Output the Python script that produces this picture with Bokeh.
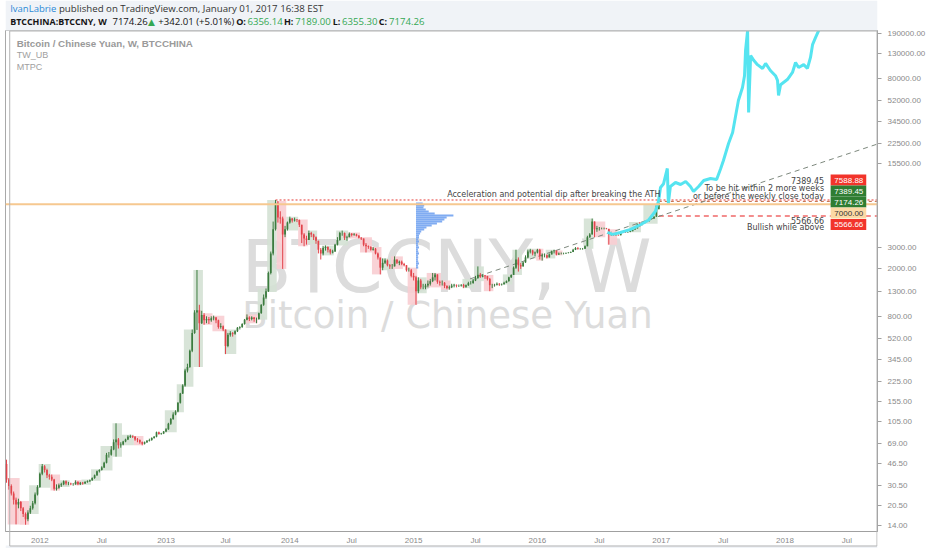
import pandas as pd
from bokeh.plotting import figure
from bokeh.models import Range1d, FixedTicker, PrintfTickFormatter, Label, Span, ColumnDataSource
from bokeh.core.properties import value
from bokeh.layouts import column
from bokeh.embed import file_html
from bokeh.resources import INLINE

# ---------------- data (weekly bars, BTCCHINA:BTCCNY) ----------------
first_week = "2011-09-26"
first_open = 46.0
last_open = 6356.14

closes = [
    # 2011
    34, 30, 26, 23, 21, 22, 19.5, 17.5, 15.8, 18, 19.5, 21.5, 25.5, 29.5,
    # 2012
    38, 44, 41, 37, 36, 34, 28.5, 29, 30.5, 31, 33, 31.5, 31.5, 31, 31, 32.5, 31, 32, 31.5, 32.5,
    33, 33.5, 35, 37, 40, 41, 43, 47, 55, 55, 61, 70, 74, 66, 67, 71, 74, 78, 79, 78,
    74, 73, 70, 68, 70, 72, 73, 76, 78, 85, 82, 83,
    # 2013
    86, 90, 100, 110, 120, 127, 150, 180, 210, 280, 300, 410, 580, 860, 900, 700, 820, 740, 760, 740,
    770, 780, 740, 650, 660, 620, 450, 560, 580, 570, 600, 640, 650, 690, 750, 780, 760, 780, 760, 760,
    850, 1000, 1150, 1300, 1850, 2700, 4300, 7200, 5400, 5300, 3900, 4300, 4900,
    # 2014
    5300, 5100, 5200, 5150, 4700, 3900, 3600, 3500, 4000, 3900, 3700, 3450, 2900, 2700, 3000, 3050,
    2900, 2750, 2800, 3200, 3500, 4000, 4000, 3650, 3700, 3950, 3850, 3900, 3800, 3650, 3600, 3200,
    3100, 3050, 2900, 2950, 2700, 2500, 2050, 2250, 2350, 2150, 2100, 2100, 2400, 2250, 2300, 2200,
    2150, 1950, 1950, 1750,
    # 2015
    1700, 1300, 1600, 1400, 1400, 1450, 1500, 1580, 1700, 1800, 1560, 1530, 1530, 1440, 1380, 1400,
    1450, 1470, 1450, 1450, 1470, 1420, 1460, 1520, 1520, 1600, 1680, 1790, 1720, 1760, 1740, 1650,
    1460, 1460, 1470, 1500, 1480, 1490, 1530, 1580, 1700, 1780, 2050, 2400, 2150, 2100, 2270, 2500,
    2800, 2850, 2700, 2750,
    # 2016
    2900, 2550, 2600, 2600, 2500, 2650, 2820, 2850, 2650, 2700, 2700, 2700, 2720, 2740, 2780, 2900,
    3000, 2950, 2950, 2960, 3100, 3700, 3900, 5000, 4300, 4400, 4400, 4400, 4400, 4350, 3900, 3900,
    3850, 3850, 3830, 4050, 4080, 4060, 4080, 4150, 4280, 4380, 4720, 4700, 4850, 5000, 5050, 5300,
    5300, 5500, 6832.25, 7174.26,
]
highs = [
    50, 35, 31, 27, 24, 23.5, 22.5, 20, 18, 18.8, 20.5, 22.5, 26.5, 30.5,
    39, 46, 45, 42, 38, 37.5, 34.5, 31, 31.5, 32, 33.5, 33.5, 32.5, 32, 31.8, 33.5, 33, 32.5, 32.5, 33,
    33.5, 34, 35.5, 37.5, 40.5, 41.5, 44, 48, 57, 58, 65, 74, 101, 76, 70, 72, 75, 80, 81, 80,
    79, 76, 74, 71, 71, 73, 75, 77, 79, 86, 86, 84,
    87, 92, 102, 112, 125, 130, 152, 182, 215, 290, 320, 420, 620, 900, 1960, 1000, 890, 850, 800, 790,
    800, 810, 790, 750, 700, 670, 620, 580, 600, 590, 610, 650, 660, 700, 760, 830, 800, 800, 790, 780,
    860, 1010, 1220, 1370, 1900, 2800, 5000, 7588.88, 7450, 6100, 5500, 4600, 5000,
    5500, 5350, 5400, 5250, 5200, 4700, 4000, 3800, 4200, 4100, 3950, 3750, 3450, 3000, 3100, 3150,
    3100, 2950, 2900, 3250, 3700, 4100, 4200, 4050, 3800, 4050, 4000, 4000, 3950, 3850, 3700, 3600,
    3300, 3150, 3100, 3050, 3000, 2750, 2450, 2450, 2450, 2400, 2200, 2200, 2550, 2400, 2350, 2350,
    2250, 2150, 2050, 2000,
    1850, 1750, 1700, 1650, 1500, 1500, 1600, 1650, 1850, 1850, 1800, 1600, 1600, 1550, 1460, 1450,
    1500, 1500, 1480, 1480, 1490, 1500, 1480, 1560, 1580, 1650, 1750, 2100, 1850, 1800, 1780, 1750,
    1680, 1500, 1500, 1540, 1520, 1510, 1560, 1600, 1720, 1800, 2100, 2900, 2500, 2250, 2300, 2600,
    2900, 2950, 2900, 2800,
    2950, 2950, 2700, 2700, 2650, 2700, 2850, 2900, 2850, 2750, 2750, 2740, 2750, 2770, 2800, 2950,
    3050, 3050, 3000, 3000, 3150, 3800, 4000, 5300, 5000, 4600, 4500, 4450, 4450, 4420, 4300, 4000,
    3950, 3900, 3900, 4100, 4120, 4100, 4100, 4200, 4320, 4420, 4800, 4950, 4900, 5050, 5100, 5350,
    5350, 5550, 6900, 7189.00,
]
lows = [
    32, 28, 25, 21, 14.3, 19.5, 18.5, 16.5, 14.2, 15.2, 17.5, 19, 21, 25,
    29, 37, 39, 35, 34, 33, 27.5, 27.5, 28.5, 29.5, 30.5, 30.5, 30.5, 30.5, 30.2, 30.8, 30.5, 30.6, 30.8, 31.3,
    32, 32.5, 33.2, 34.5, 36.5, 39, 40.5, 42.5, 46.5, 52, 54, 60, 53, 62, 63, 66, 70, 73, 76, 76,
    72, 70, 68, 66, 67, 69, 71, 72, 75, 77, 81, 81,
    82, 85, 89, 98, 108, 118, 125, 148, 178, 205, 270, 295, 400, 570, 615, 300, 690, 680, 700, 690,
    720, 740, 700, 630, 630, 600, 385, 440, 540, 540, 560, 590, 620, 640, 680, 740, 730, 740, 720, 700,
    750, 840, 980, 1120, 1280, 1800, 2600, 4200, 4900, 4800, 2000, 3700, 4200,
    4800, 4900, 5000, 4950, 4500, 3300, 3100, 3200, 3500, 3700, 3500, 3250, 2700, 2400, 2600, 2850,
    2750, 2650, 2700, 2780, 3150, 3450, 3800, 3500, 3450, 3700, 3750, 3800, 3750, 3600, 3500, 3100,
    2750, 2950, 2850, 2850, 2650, 2400, 1800, 1950, 2200, 2100, 2000, 2000, 2100, 2200, 2150, 2150,
    2100, 1900, 1900, 1700,
    1600, 1000, 1250, 1350, 1350, 1350, 1400, 1450, 1550, 1600, 1500, 1450, 1450, 1380, 1350, 1340,
    1380, 1400, 1400, 1410, 1420, 1380, 1390, 1440, 1480, 1500, 1580, 1650, 1680, 1700, 1650, 1600,
    1300, 1380, 1420, 1450, 1440, 1450, 1480, 1520, 1560, 1680, 1780, 2000, 1900, 2000, 2100, 2250,
    2450, 2700, 2600, 2550,
    2700, 2400, 2350, 2500, 2450, 2500, 2650, 2700, 2600, 2620, 2650, 2650, 2680, 2700, 2720, 2770,
    2880, 2900, 2900, 2900, 2950, 3100, 3650, 3900, 3700, 4100, 4200, 4300, 4300, 4300, 3200, 3800,
    3800, 3800, 3800, 3830, 4020, 4020, 4030, 4070, 4150, 4250, 4380, 4500, 4650, 4800, 4950, 5000,
    5200, 5280, 5500, 6355.30,
]

# TW_UB shaded boxes: first bar, last bar, direction
box_first = [1, 6, 10, 14, 19, 23, 29, 32, 36, 40, 45, 49, 54, 67, 72, 75, 79, 83, 87, 92, 101, 106, 110,
             114, 118, 123, 127, 133, 139, 144, 149, 154, 158, 162, 169, 173, 177, 183, 192, 197, 201,
             209, 213, 219, 223, 227, 231, 243, 247, 253, 262, 268]
box_last = [5, 9, 13, 18, 22, 26, 31, 35, 39, 44, 48, 53, 57, 71, 74, 78, 82, 86, 91, 96, 105, 109, 113,
            117, 122, 126, 130, 137, 143, 148, 153, 157, 161, 166, 172, 176, 182, 186, 196, 200, 204,
            212, 216, 222, 225, 230, 233, 246, 251, 256, 266, 273]
box_up = [0, 0, 1, 1, 0, 1, 0, 1, 1, 1, 1, 1, 0, 1, 1, 1, 1, 0, 0, 1, 0, 1, 1,
          0, 1, 0, 1, 1, 1, 0, 0, 0, 1, 0, 0, 1, 0, 0, 1, 1, 0,
          1, 1, 1, 0, 1, 0, 1, 0, 0, 1, 1]

# MTPC projection (cyan)
cyan_dates = ["2016-07-28", "2016-08-12", "2016-09-04", "2016-10-04", "2016-11-02", "2016-11-26",
              "2016-12-16", "2016-12-25", "2016-12-31", "2017-01-09", "2017-01-20", "2017-01-23",
              "2017-01-29", "2017-02-13", "2017-02-28", "2017-03-15", "2017-03-29", "2017-04-07",
              "2017-04-22", "2017-05-07", "2017-05-27", "2017-06-14", "2017-06-26", "2017-07-04",
              "2017-07-19", "2017-07-31", "2017-08-09", "2017-08-17", "2017-08-29", "2017-09-04",
              "2017-09-07", "2017-09-13", "2017-09-16", "2017-09-22", "2017-10-01", "2017-10-12",
              "2017-10-27", "2017-11-05", "2017-11-19", "2017-12-04", "2017-12-10", "2017-12-13",
              "2017-12-19", "2018-01-08", "2018-01-23", "2018-02-01", "2018-02-10", "2018-02-25",
              "2018-03-08", "2018-03-17", "2018-03-23", "2018-04-01", "2018-04-10", "2018-04-16"]
cyan_prices = [4050, 3900, 4050, 4300, 4700, 5150, 6100, 7400, 9660, 10400, 13960, 7100,
               9850, 10640, 10240, 10850, 9850, 8950, 9850, 11070, 11510, 11300, 13960, 16290,
               22640, 28000, 38900, 52000, 66800, 84000, 136800, 201000, 41200, 124000, 113000, 104000,
               96600, 106400, 92900, 84000, 76600, 57300, 70500, 78000, 89400, 108400, 98400, 104000,
               96600, 119500, 153000, 176000, 201000, 230000]

trend_dates = ["2015-06-20", "2018-10-04"]
trend_prices = [1650, 22600]

ath_date = "2013-11-25"
ath_price = 7588.88
support_price = 7000.00
target_price = 7389.45
bull_price = 5566.66
levels_start = "2016-12-26"

# volume profile
vp_date = "2015-01-12"
vp_edges = [7230, 6955, 6690, 6440, 6195, 5960, 5735, 5515, 5305, 5105, 4910, 4725, 4545, 4375, 4210,
            4050, 3895, 3745, 3605, 3470, 3335, 3210, 3090, 2970, 2860, 2750, 2645, 2545, 2450, 2355,
            2265, 2180, 2095, 2015]
vp_volume = [18, 22, 20, 26, 34, 50, 100, 82, 76, 70, 56, 42, 28, 22, 14, 11, 8, 8, 6, 8,
             5, 6, 8, 5, 6, 8, 5, 6, 5, 6, 8, 5, 6]

y_ticks = [14, 20.5, 30.5, 46.5, 69, 105, 155, 225, 345, 520, 800, 1300, 2000, 3000,
           15500, 22500, 34500, 52000, 80000, 130000, 190000]
x_tick_dates = ["2012-01-02", "2012-07-02", "2013-01-07", "2013-07-01", "2014-01-06", "2014-07-07",
                "2015-01-05", "2015-07-06", "2016-01-04", "2016-07-04", "2017-01-02", "2017-07-03",
                "2018-01-01", "2018-07-02"]
x_tick_labels = ["2012", "Jul", "2013", "Jul", "2014", "Jul", "2015", "Jul", "2016", "Jul",
                 "2017", "Jul", "2018", "Jul"]

tag_texts = ["7588.88", "7389.45", "7174.26", "7000.00", "5566.66"]

# ---------------- styles ----------------
UP = "#3b7b3e"
DN = "#e2434a"
BOX_UP = "#d4e1d4"
BOX_DN = "#f8cdd1"
AX_FONT = "Liberation Sans"
TXT_FONT = "DejaVu Sans"
HDR_FONT = "Open Sans"
BAND = "#f0f3f7"
DAY = pd.Timedelta(days=1)
W, H = 930, 548

# ---------------- main chart ----------------
p = figure(width=W, height=H, x_axis_type="datetime", y_axis_type="log",
           y_axis_location="right",
           x_range=Range1d(pd.Timestamp("2011-09-23"), pd.Timestamp("2018-09-30")),
           y_range=Range1d(12.46, 201300),
           output_backend="svg", toolbar_location=None,
           min_border_left=5, min_border_right=53, min_border_top=30, min_border_bottom=17,
           background_fill_color="white", border_fill_color="white",
           outline_line_color="#a9a9a9")
p.grid.visible = False

xt = [int(pd.Timestamp(d).value // 10**6) for d in x_tick_dates]
p.xaxis.ticker = FixedTicker(ticks=xt)
p.xaxis.major_label_overrides = {t: lab for t, lab in zip(xt, x_tick_labels)}
p.xaxis.major_tick_line_color = None
p.xaxis.major_tick_out = 0
p.xaxis.major_tick_in = 0
p.xaxis.minor_tick_line_color = None
p.xaxis.axis_line_color = "#a0a0a0"
p.xaxis.major_label_standoff = 4
p.xaxis.major_label_text_font = AX_FONT
p.xaxis.major_label_text_font_size = "8px"
p.xaxis.major_label_text_color = "#8a8a8a"

p.yaxis.ticker = FixedTicker(ticks=y_ticks)
p.yaxis.formatter = PrintfTickFormatter(format="%.2f")
p.yaxis.axis_line_color = "#a0a0a0"
p.yaxis.major_tick_line_color = "#a0a0a0"
p.yaxis.major_tick_out = 4
p.yaxis.major_tick_in = 0
p.yaxis.minor_tick_line_color = None
p.yaxis.major_label_standoff = 6
p.yaxis.major_label_text_font = AX_FONT
p.yaxis.major_label_text_font_size = "8px"
p.yaxis.major_label_text_color = "#8a8a8a"

# watermark (under the bars); screen units measured from the canvas bottom-left
p.add_layout(Label(x=441, y=265, x_units="screen", y_units="screen", text="BTCCNY, W",
                   text_font=TXT_FONT, text_font_size="73px", text_color="#dcdcdc",
                   text_align="center", text_baseline="alphabetic", level="underlay"))
p.add_layout(Label(x=442, y=216, x_units="screen", y_units="screen", text="Bitcoin / Chinese Yuan",
                   text_font=TXT_FONT, text_font_size="37px", text_color="#dcdcdc",
                   text_align="center", text_baseline="alphabetic", level="underlay"))

# candles
n = len(closes)
dates = pd.date_range(first_week, periods=n, freq="7D")
opens = [first_open] + closes[:-1]
opens[-1] = last_open
ups = [c >= o for o, c in zip(opens, closes)]
src = ColumnDataSource(dict(
    x=dates, o=opens, h=highs, l=lows, c=closes,
    top=[max(o, c) for o, c in zip(opens, closes)],
    bottom=[min(o, c) for o, c in zip(opens, closes)],
    color=[UP if u else DN for u in ups]))

# TW_UB boxes
half = pd.Timedelta(days=3.5)
bsrc = ColumnDataSource(dict(
    left=[dates[a] - half for a in box_first],
    right=[dates[b] + half for b in box_last],
    top=[max(highs[a:b + 1]) for a, b in zip(box_first, box_last)],
    bottom=[min(lows[a:b + 1]) for a, b in zip(box_first, box_last)],
    color=[BOX_UP if u else BOX_DN for u in box_up]))
p.quad(left="left", right="right", top="top", bottom="bottom", fill_color="color",
       line_color=None, fill_alpha=0.9, source=bsrc)

# volume profile
vp_left = pd.Timestamp(vp_date)
vsrc = ColumnDataSource(dict(
    left=[vp_left] * len(vp_volume),
    right=[vp_left + DAY * (v / 100.0 * 110) for v in vp_volume],
    top=vp_edges[:-1], bottom=vp_edges[1:]))
p.quad(left="left", right="right", top="top", bottom="bottom", source=vsrc,
       fill_color="#6a9ef0", fill_alpha=0.85, line_color=None)

# levels and trend
p.add_layout(Span(location=support_price, dimension="width", line_color="#f6c890", line_width=2))
p.ray(x=[pd.Timestamp(ath_date)], y=[ath_price], length=0, angle=0,
      line_color="#e53935", line_dash="2 2", line_width=1)
p.ray(x=[pd.Timestamp(levels_start)], y=[target_price], length=0, angle=0,
      line_color="#c0643c", line_dash="3 3", line_width=1)
p.ray(x=[pd.Timestamp(levels_start)], y=[bull_price], length=0, angle=0,
      line_color="#f06868", line_dash="5 4", line_width=1.5)
p.line(x=pd.to_datetime(trend_dates), y=trend_prices, line_color="#7d887d",
       line_dash="5 4", line_width=1)

p.segment(x0="x", y0="l", x1="x", y1="h", line_color="color", line_width=1, source=src)
p.vbar(x="x", width=5 * 24 * 3600 * 1000, top="top", bottom="bottom",
       fill_color="color", line_color=None, source=src)

p.line(x=pd.to_datetime(cyan_dates), y=cyan_prices, line_color="#55e4f0", line_width=3)

# ---------------- overlay for texts outside the price pane ----------------
o = figure(width=W, height=H, x_range=Range1d(0, W), y_range=Range1d(H, 0),
           x_axis_location=None, y_axis_location=None, output_backend="svg",
           toolbar_location=None, min_border=0, outline_line_color=None,
           background_fill_alpha=0, border_fill_alpha=0, margin=(-H, 0, 0, 0))
o.grid.visible = False

# grey page band (header) and bottom strip, outer frame
o.quad(left=[0, 0], right=[W, W], top=[0, 545], bottom=[30, H], fill_color=BAND, line_color=None)
o.line(x=[4.5, 929.5, 929.5, 4.5, 4.5], y=[30.5, 30.5, 545.5, 545.5, 30.5],
       line_color="#b4b4b4", line_width=1)


def otext(x, y, text, color="#444444", size="8px", font=TXT_FONT, bold=False, align="left"):
    o.text(x=[x], y=[y], text=[text], text_color=color, text_font=value(font),
           text_font_size=size, text_font_style="bold" if bold else "normal",
           text_align=align, text_baseline="middle")


# header
K = "#151515"
G = "#34a853"
otext(5, 7.5, "IvanLabrie", color="#2a8ad8", size="9.5px", font=HDR_FONT)
otext(57, 7.5, "published on TradingView.com, January 01, 2017 16:38 EST", color="#333333",
      size="9.7px", font=HDR_FONT)
otext(5, 21, "BTCCHINA:BTCCNY, W", color=K, size="8.9px", font=HDR_FONT, bold=True)
otext(114, 21, "7174.26", color=K, size="9.6px", font=HDR_FONT)
otext(152, 21, "\u25B2", color=G, size="9px", font="DejaVu Sans")
otext(163, 21, "+342.01 (+5.01%)", color=K, size="9.6px", font=HDR_FONT)
otext(246, 21, "O:", color=K, size="9px", font=HDR_FONT, bold=True)
otext(258, 21, "6356.14", color=G, size="9.6px", font=HDR_FONT)
otext(297, 21, "H:", color=K, size="9px", font=HDR_FONT, bold=True)
otext(309, 21, "7189.00", color=G, size="9.6px", font=HDR_FONT)
otext(349, 21, "L:", color=K, size="9px", font=HDR_FONT, bold=True)
otext(359, 21, "6355.30", color=G, size="9.6px", font=HDR_FONT)
otext(398, 21, "C:", color=K, size="9px", font=HDR_FONT, bold=True)
otext(409, 21, "7174.26", color=G, size="9.6px", font=HDR_FONT)

# pane legend
otext(12, 43, "Bitcoin / Chinese Yuan, W, BTCCHINA", color="#9a9a9a", size="9.8px",
      font=AX_FONT, bold=True)
otext(12, 54.5, "TW_UB", color="#a0a0a0", size="9px", font=AX_FONT)
otext(12, 66.5, "MTPC", color="#a0a0a0", size="9px", font=AX_FONT)

# notes
otext(471, 193.5, "Acceleration and potential dip after breaking the ATH")
otext(873, 180, "7389.45", align="right")
otext(873, 188, "To be hit within 2 more weeks", align="right")
otext(873, 195.5, "or before the weekly close today", align="right")
otext(873, 219.5, "5566.66", align="right")
otext(873, 226.5, "Bullish while above", align="right")

# price tags on the scale
tag_y = [179.5, 190.5, 201.5, 212.5, 224]
tag_bg = ["#f2342b", "#2f7d32", "#2f7d32", "#fcd9a4", "#f2342b"]
tag_fg = ["white", "white", "white", "#333333", "white"]
o.quad(left=[880] * 5, right=[918] * 5, top=[y - 5.5 for y in tag_y],
       bottom=[y + 5.5 for y in tag_y], fill_color=tag_bg, line_color=None)
for t, y, fg in zip(tag_texts, tag_y, tag_fg):
    otext(884, y, t, color=fg, size="8px", font=AX_FONT)

layout = column(p, o, spacing=0)
open("out.html", "w").write(file_html(layout, INLINE))
